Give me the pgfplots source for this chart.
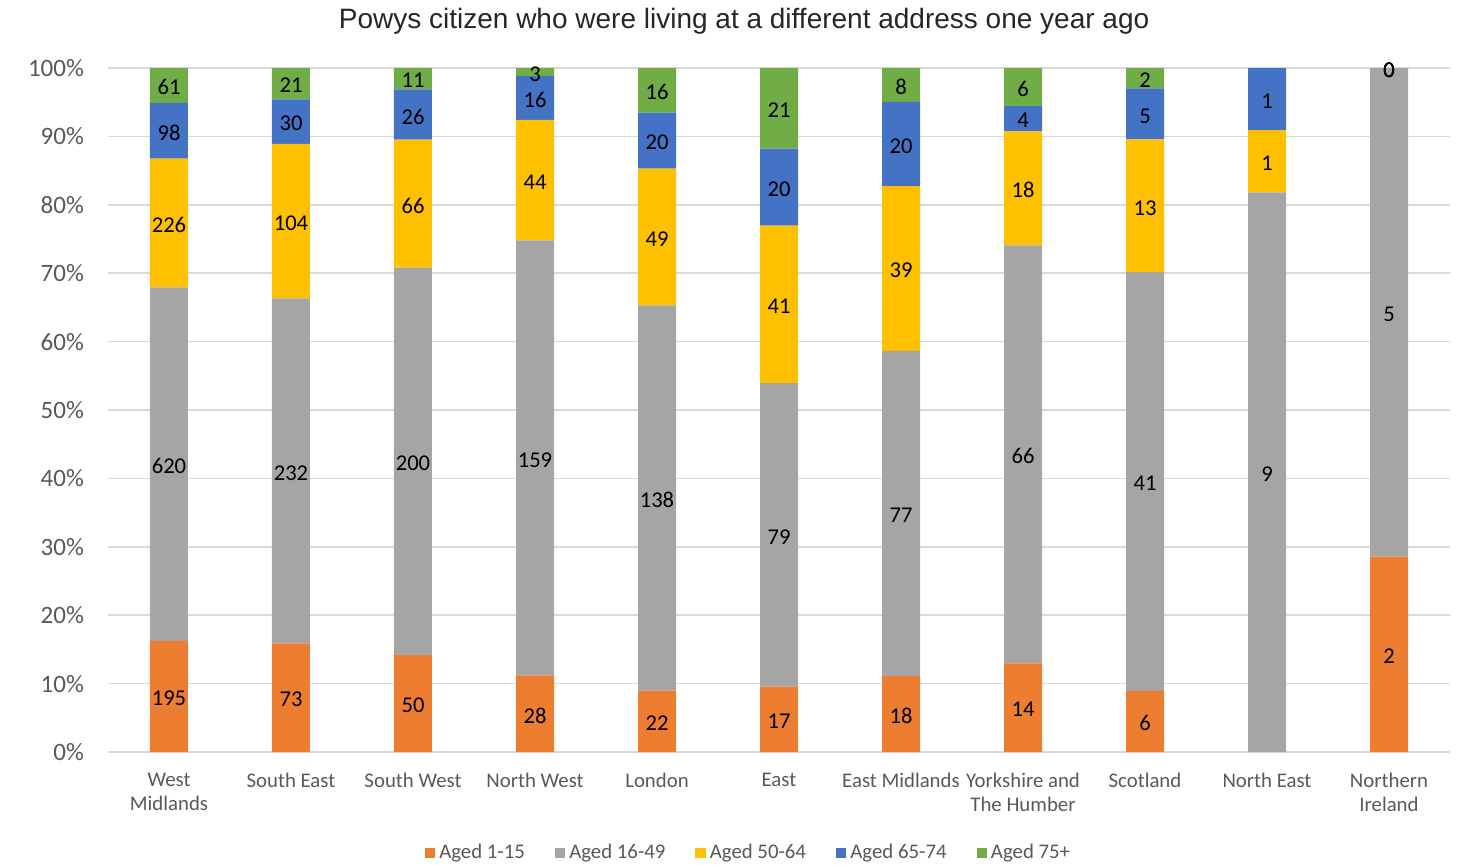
\documentclass[border=0pt]{standalone}
\usepackage{pgfplots}
\pgfplotsset{compat=1.18}
\usepackage{pgfplotstable}
\usepackage{fontspec}
\setmainfont{Carlito}
\newfontfamily\titlefont{Liberation Sans}
\definecolor{cA}{HTML}{ED7D31}
\definecolor{cB}{HTML}{A5A5A5}
\definecolor{cC}{HTML}{FFC000}
\definecolor{cD}{HTML}{4472C4}
\definecolor{cE}{HTML}{70AD47}
\definecolor{gridc}{HTML}{D9D9D9}
\definecolor{txt}{HTML}{595959}
\definecolor{titc}{HTML}{262626}

\pgfplotstableread{
x a b c d e la lb lc ld le
0 195 620 226 98 61 195 620 226 98 61
1 73 232 104 30 21 73 232 104 30 21
2 50 200 66 26 11 50 200 66 26 11
3 28 159 44 16 3 28 159 44 16 3
4 22 138 49 20 16 22 138 49 20 16
5 17 79 41 20 21 17 79 41 20 21
6 18 77 39 20 8 18 77 39 20 8
7 14 66 18 4 6 14 66 18 4 6
8 6 41 13 5 2 6 41 13 5 2
9 0 9 1 1 0 {} 9 1 1 {}
10 2 5 0 0 0 2 5 0 0 0
}\data

\newcommand{\tot}{(\thisrow{a}+\thisrow{b}+\thisrow{c}+\thisrow{d}+\thisrow{e})}

\pgfplotsset{
  common/.style={
    width=671pt, height=342pt, scale only axis,
    xmin=-0.5, xmax=10.5, ymin=0, ymax=100,
  },
}

\begin{document}
\begin{tikzpicture}
\useasboundingbox (-54pt,-56pt) rectangle (680pt,376pt);
\begin{axis}[common,
  ybar stacked, bar width=19pt,
  axis line style={draw=none},
  major tick length=0pt,
  ymajorgrids, grid style={gridc, line width=0.8pt},
  ytick={0,10,...,100},
  yticklabel={\pgfmathprintnumber{\tick}\%},
  /pgf/number format/assume math mode=true,
  yticklabel style={font=\fontsize{12.5}{14}\selectfont, text=txt, xshift=-8.5pt},
  xtick={0,...,10},
  xticklabels={{West\\Midlands},{South East},{South West},{North West},{London},{East},{East Midlands},{Yorkshire and\\The Humber},{Scotland},{North East},{Northern\\Ireland}},
  xticklabel style={align=center, font=\fontsize{10.4}{12}\selectfont, text=txt, yshift=-7pt},
  title={Powys citizen who were living at a different address one year ago},
  title style={font=\titlefont\fontsize{14}{16}\selectfont, text=titc, at={(0.474,1)}, anchor=center, yshift=17.5pt},
  legend style={at={(0.478,-0.148)}, anchor=center, draw=none, legend columns=5,
    font=\fontsize{10.4}{12}\selectfont, text=txt,
    /tikz/every even column/.append style={column sep=13pt}},
  legend image code/.code={\fill[#1,draw=none] (0pt,-2.6pt) rectangle (5.2pt,2.6pt);},
]
\addplot[fill=cA, draw=none] table[x=x, y expr=\thisrow{a}/\tot*100]{\data};
\addplot[fill=cB, draw=none] table[x=x, y expr=\thisrow{b}/\tot*100]{\data};
\addplot[fill=cC, draw=none] table[x=x, y expr=\thisrow{c}/\tot*100]{\data};
\addplot[fill=cD, draw=none] table[x=x, y expr=\thisrow{d}/\tot*100]{\data};
\addplot[fill=cE, draw=none] table[x=x, y expr=\thisrow{e}/\tot*100]{\data};
\legend{Aged 1-15, Aged 16-49, Aged 50-64, Aged 65-74, Aged 75+}
\end{axis}
\begin{axis}[common, hide axis, clip=false,
  nodes near coords, point meta=explicit symbolic,
  nodes near coords style={anchor=center, font=\fontsize{11.3}{13}\selectfont, text=black, yshift=-1pt},
]
\addplot[draw=none, mark=none] table[x=x, y expr=(\thisrow{a}/2)/\tot*100, meta=la]{\data};
\addplot[draw=none, mark=none] table[x=x, y expr=(\thisrow{a}+\thisrow{b}/2)/\tot*100, meta=lb]{\data};
\addplot[draw=none, mark=none] table[x=x, y expr=(\thisrow{a}+\thisrow{b}+\thisrow{c}/2)/\tot*100, meta=lc]{\data};
\addplot[draw=none, mark=none] table[x=x, y expr=(\thisrow{a}+\thisrow{b}+\thisrow{c}+\thisrow{d}/2)/\tot*100, meta=ld]{\data};
\addplot[draw=none, mark=none] table[x=x, y expr=(\thisrow{a}+\thisrow{b}+\thisrow{c}+\thisrow{d}+\thisrow{e}/2)/\tot*100, meta=le]{\data};
\end{axis}
\end{tikzpicture}
\end{document}
